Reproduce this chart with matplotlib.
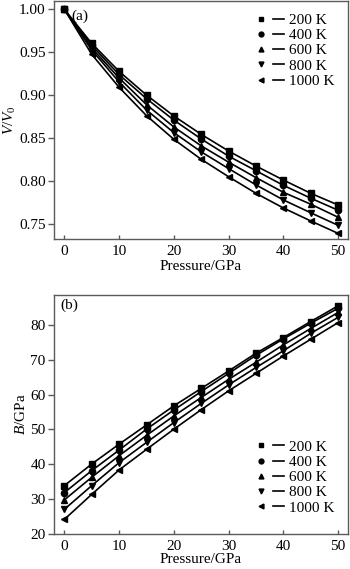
import matplotlib
matplotlib.use("Agg")
import matplotlib.pyplot as plt
from matplotlib.lines import Line2D
from matplotlib.legend_handler import HandlerTuple

plt.rcParams['font.family'] = ['Liberation Serif', 'DejaVu Serif']
plt.rcParams['mathtext.fontset'] = 'custom'
plt.rcParams['mathtext.rm'] = 'Liberation Serif'
plt.rcParams['mathtext.it'] = 'Liberation Serif:italic'

pressure = [0, 5, 10, 15, 20, 25, 30, 35, 40, 45, 50]
labels = ["200 K", "400 K", "600 K", "800 K", "1000 K"]
markers = ["s", "o", "^", "v", "<"]

v_200 = [1.000, 0.9604, 0.9278, 0.9002, 0.8758, 0.8544, 0.8350, 0.8175, 0.8012, 0.7857, 0.7721]
v_400 = [1.000, 0.9580, 0.9240, 0.8960, 0.8710, 0.8490, 0.8290, 0.8120, 0.7950, 0.7800, 0.7660]
v_600 = [1.000, 0.9550, 0.9200, 0.8890, 0.8630, 0.8410, 0.8220, 0.8040, 0.7869, 0.7730, 0.7578]
v_800 = [1.000, 0.9526, 0.9154, 0.8828, 0.8564, 0.8340, 0.8145, 0.7955, 0.7780, 0.7630, 0.7484]
v_1000 = [1.000, 0.9476, 0.9092, 0.8762, 0.8486, 0.8253, 0.8050, 0.7857, 0.7686, 0.7535, 0.7390]

b_200 = [33.9, 40.1, 45.8, 51.3, 56.8, 61.8, 66.8, 71.9, 76.4, 81.0, 85.5]
b_400 = [31.9, 38.2, 44.1, 50.1, 55.6, 60.9, 66.1, 71.3, 76.0, 80.5, 84.8]
b_600 = [29.8, 36.3, 42.5, 48.3, 53.9, 59.2, 64.4, 69.3, 74.3, 79.0, 83.6]
b_800 = [27.1, 33.9, 40.5, 46.3, 52.0, 57.5, 62.8, 67.8, 72.6, 77.6, 82.2]
b_1000 = [24.2, 31.4, 38.4, 44.3, 50.1, 55.7, 61.1, 66.1, 71.1, 75.9, 80.7]

v_series = [v_200, v_400, v_600, v_800, v_1000]
b_series = [b_200, b_400, b_600, b_800, b_1000]

FS = 11

fig = plt.figure(figsize=(3.5, 5.69), dpi=100)
ax1 = fig.add_axes([0.1543, 0.58, 0.84, 0.418])
ax2 = fig.add_axes([0.1543, 0.0615, 0.84, 0.42])

spine_c = '#5a5a5a'

def style(ax, lp):
    for s in ax.spines.values():
        s.set_color(spine_c)
        s.set_linewidth(1.0)
    ax.tick_params(axis='y', direction='out', length=4, width=1, color=spine_c,
                   labelsize=FS, pad=2)
    ax.tick_params(axis='x', direction='in', length=3, width=1, color=spine_c,
                   labelsize=FS, pad=4)
    ax.set_xlim(-1.9, 51.8)
    ax.set_xticks([0, 10, 20, 30, 40, 50])
    ax.set_xlabel("Pressure/GPa", fontsize=FS, labelpad=lp)

def make_handles():
    hs = []
    for m in markers:
        mk = Line2D([], [], marker=m, color='black', linestyle='none', markersize=3.5)
        ln = Line2D([], [], color='black', linewidth=1.2)
        hs.append((mk, ln))
    return hs

hmap = {tuple: HandlerTuple(ndivide=None, pad=0.45)}

for vals, m in zip(v_series, markers):
    ax1.plot(pressure, vals, color='black', linewidth=1.2, marker=m, markersize=4.5)
style(ax1, 2)
ax1.set_ylim(0.7325, 1.0097)
ax1.set_yticks([0.75, 0.80, 0.85, 0.90, 0.95, 1.00])
ax1.set_yticklabels(["0.75", "0.80", "0.85", "0.90", "0.95", "1.00"])
ax1.set_ylabel(r"$V/V_{\mathrm{0}}$", fontsize=FS, labelpad=1)
ax1.text(0.06, 0.965, "(a)", transform=ax1.transAxes, fontsize=FS, va='top', ha='left')
ax1.legend(make_handles(), labels, handler_map=hmap,
           loc='upper right', bbox_to_anchor=(0.995, 1.0), frameon=False, fontsize=FS,
           handlelength=1.9, handletextpad=0.3, labelspacing=0.1, borderpad=0.3)

for vals, m in zip(b_series, markers):
    ax2.plot(pressure, vals, color='black', linewidth=1.2, marker=m, markersize=4.5)
style(ax2, 0)
ax2.set_ylim(20, 88.6)
ax2.set_yticks([20, 30, 40, 50, 60, 70, 80])
ax2.set_ylabel(r"$B$/GPa", fontsize=FS, labelpad=2)
ax2.text(0.02, 0.985, "(b)", transform=ax2.transAxes, fontsize=FS, va='top', ha='left')
ax2.legend(make_handles(), labels, handler_map=hmap,
           loc='lower right', bbox_to_anchor=(0.995, 0.03), frameon=False, fontsize=FS,
           handlelength=1.9, handletextpad=0.3, labelspacing=0.1, borderpad=0.3)

fig.savefig("out.png", dpi=100)
